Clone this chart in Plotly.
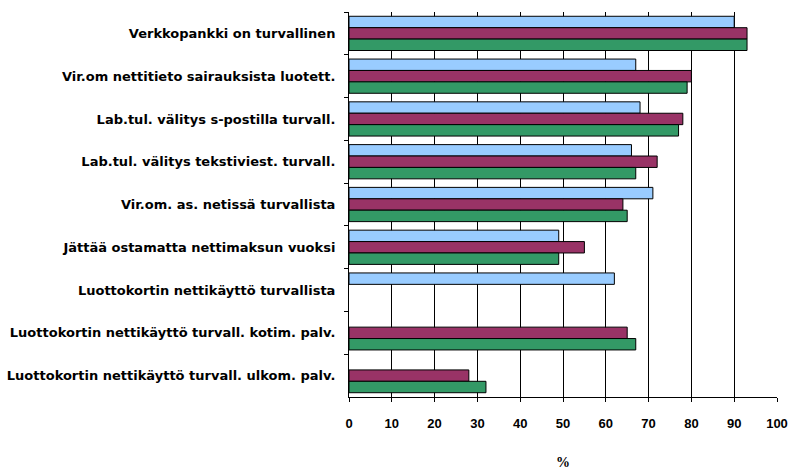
import plotly.graph_objects as go

categories = [
    "Verkkopankki on turvallinen",
    "Vir.om nettitieto sairauksista luotett.",
    "Lab.tul. välitys s-postilla turvall.",
    "Lab.tul. välitys tekstiviest. turvall.",
    "Vir.om. as. netissä turvallista",
    "Jättää ostamatta nettimaksun vuoksi",
    "Luottokortin nettikäyttö turvallista",
    "Luottokortin nettikäyttö turvall. kotim. palv.",
    "Luottokortin nettikäyttö turvall. ulkom. palv.",
]
series_blue = [90, 67, 68, 66, 71, 49, 62, None, None]
series_maroon = [93, 80, 78, 72, 64, 55, None, 65, 28]
series_green = [93, 79, 77, 67, 65, 49, None, 67, 32]
x_ticks = [0, 10, 20, 30, 40, 50, 60, 70, 80, 90, 100]

colors = ["#99CCFF", "#993366", "#339966"]

fig = go.Figure()
for vals, col in zip([series_blue, series_maroon, series_green], colors):
    fig.add_trace(go.Bar(
        y=categories, x=vals, orientation="h",
        marker=dict(color=col, line=dict(color="#000000", width=1)),
        showlegend=False,
    ))

fig.update_layout(
    width=792, height=470,
    barmode="group", bargap=0.2, bargroupgap=0,
    plot_bgcolor="white", paper_bgcolor="white",
    margin=dict(l=349, r=15, t=12, b=73),
    font=dict(family="Liberation Sans, Arial, sans-serif", size=12, color="#000000"),
)
fig.update_xaxes(
    range=[0, 100], tickvals=x_ticks, ticktext=[str(v) for v in x_ticks],
    showgrid=True, gridcolor="#000000", gridwidth=1,
    showline=True, linecolor="#000000", linewidth=1,
    ticks="outside", ticklen=4, tickcolor="#000000",
    tickfont=dict(family="Liberation Sans, Arial, sans-serif", size=13, weight="bold"),
    ticklabelstandoff=10,
    title=dict(text="%", font=dict(family="Liberation Serif, Times New Roman, serif", size=14, weight="bold"), standoff=28),
    zeroline=False,
    automargin=False,
)
fig.update_yaxes(
    autorange="reversed",
    showline=True, linecolor="#000000", linewidth=1,
    ticks="outside", ticklen=4, tickcolor="#000000", tickson="boundaries",
    tickfont=dict(family="DejaVu Sans, sans-serif", size=13, weight="bold"),
    ticklabelstandoff=10,
    showgrid=False,
    automargin=False,
)

fig.write_html(
    "out.html",
    config={"displayModeBar": False},
    post_script="document.body.style.margin='0';",
)
